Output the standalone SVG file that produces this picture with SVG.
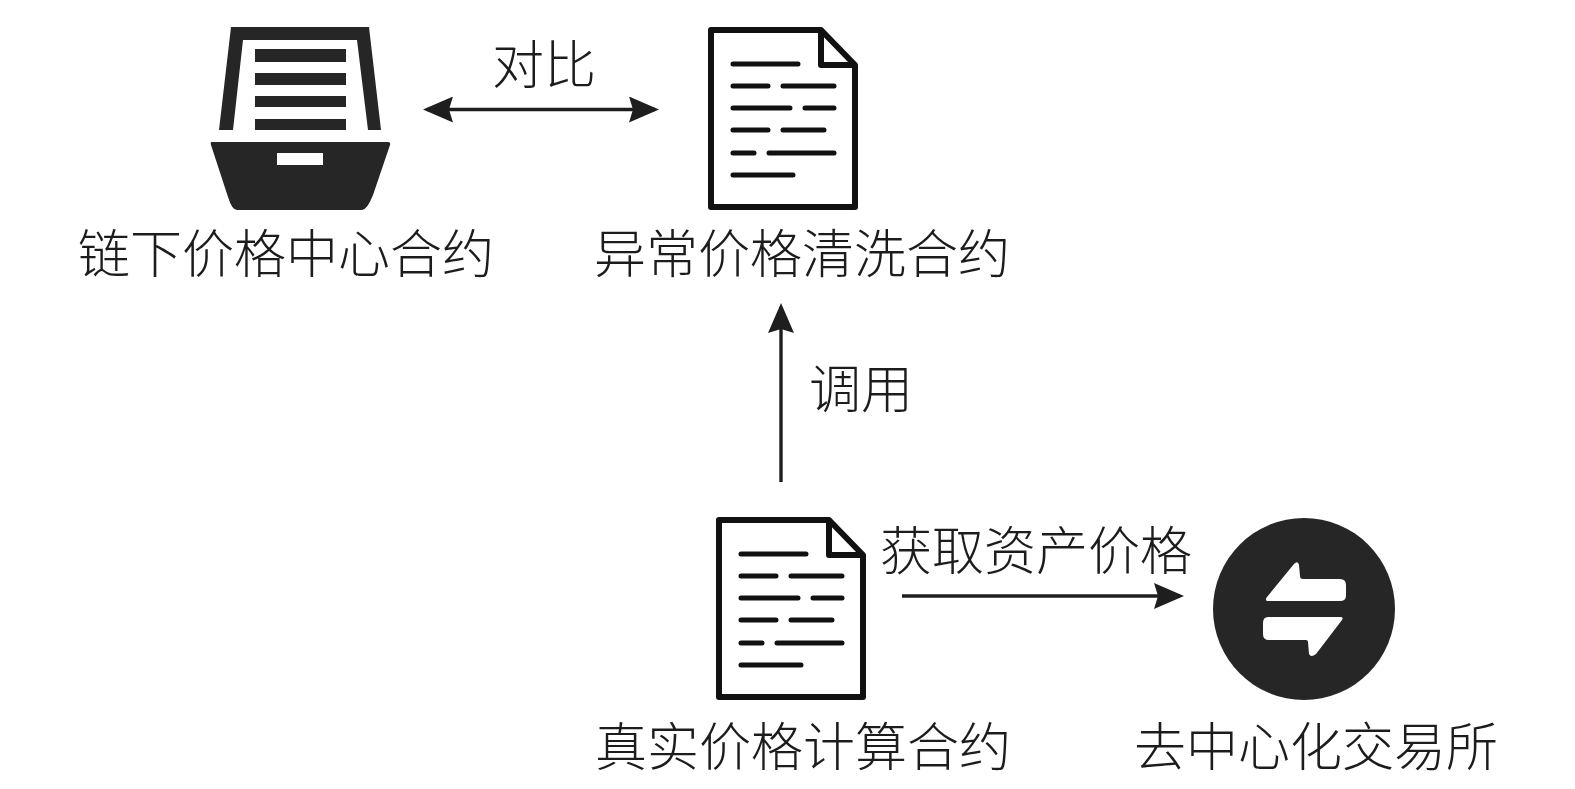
<svg xmlns="http://www.w3.org/2000/svg" width="1575" height="789" viewBox="0 0 1575 789">
<style>
.ink{fill:#262626}
.doc{fill:#fff;stroke:#111;stroke-width:6;stroke-linejoin:round}
.fold{fill:none;stroke:#111;stroke-width:6;stroke-linejoin:round}
.ln{fill:none;stroke:#111;stroke-width:5;stroke-linecap:round}
.conn{fill:none;stroke:#1e1e1e;stroke-width:3.4}
.t{font-family:"Noto Sans CJK SC","Noto Sans",sans-serif;font-size:52px;font-weight:300;fill:#1c1c1c}
</style>
<defs>
<marker id="ah" viewBox="0 0 30 26" refX="26" refY="13" markerWidth="30" markerHeight="26" markerUnits="userSpaceOnUse" orient="auto-start-reverse"><path d="M0,0 L30,13 L0,26 L4,13 Z" fill="#1e1e1e"/></marker>
<g id="docicon">
<path class="doc" d="M711,30H821L855,65V207H711Z"/>
<path class="fold" d="M821,30V65H855"/>
<path class="ln" d="M733,64H798M733,86H768M783,86H834M733,108H790M805,108H834M733,130H768M783,130H824M733,153H754M769,153H834M733,175H793"/>
</g>
</defs>
<rect width="1575" height="789" fill="#fff"/>
<g id="connectors">
<path class="conn" marker-start="url(#ah)" marker-end="url(#ah)" d="M427,109.500H655"/>
<path class="conn" marker-end="url(#ah)" d="M781,482V307"/>
<path class="conn" marker-end="url(#ah)" d="M902,596H1180"/>
</g>
<g id="offchain-center">
<path class="ink" d="M231,27H369L381,130H368L357,40H243L233,130H219Z"/>
<path class="ink" d="M255,49H346V62H255ZM255,73H346V85H255ZM255,96H346V107H255ZM255,119H346V130H255Z"/>
<path class="ink" fill-rule="evenodd" d="M212,142H388Q391,142 390,145L373,195Q367,210 362,210H237Q232,210 228,197L211,145Q210,142 212,142ZM277,153V165H323V153Z"/>
<text class="t" x="78" y="273">链下价格中心合约</text>
</g>
<g id="anomaly-contract">
<use href="#docicon"/>
<text class="t" x="594" y="273">异常价格清洗合约</text>
</g>
<g id="real-price-contract">
<use href="#docicon" transform="translate(8,490)"/>
<text class="t" x="595" y="766">真实价格计算合约</text>
</g>
<g id="dex">
<circle class="ink" cx="1304" cy="609" r="91"/>
<path fill="#fff" d="M1294,564Q1298,560 1299,565L1300,576Q1300,579 1303,579H1340Q1346,579 1346,585V596Q1346,601 1340,601H1269Q1264,601 1267,597Z"/>
<path fill="#fff" d="M1268,617H1340Q1344,617 1342,620L1316,654Q1311,658 1309,654L1308,642Q1308,640 1306,640H1269Q1263,640 1263,634V623Q1263,617 1268,617Z"/>
<text class="t" x="1134" y="766">去中心化交易所</text>
</g>
<text class="t" x="492" y="84">对比</text>
<text class="t" x="809" y="408">调用</text>
<text class="t" x="880" y="570">获取资产价格</text>
</svg>
